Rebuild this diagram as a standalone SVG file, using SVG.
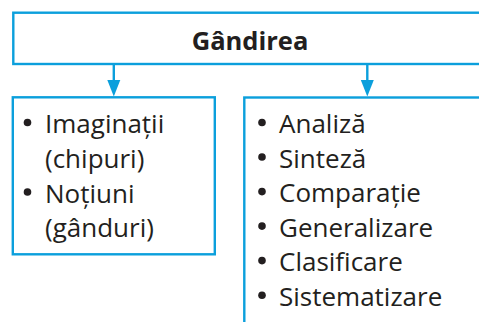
<svg xmlns="http://www.w3.org/2000/svg" width="479" height="322" viewBox="0 0 479 322">
<defs>
<style>
.box{fill:#fff;stroke:#0b9fdc;stroke-width:2.4}
.t{font-family:"Open Sans","Noto Sans",sans-serif;font-size:26px;fill:#231f20}
.h{font-family:"Open Sans","Noto Sans",sans-serif;font-size:25.5px;font-weight:bold;fill:#231f20}
.b{fill:#231f20}
.c{stroke:#0b9fdc;stroke-width:2.4;fill:none}
</style>
<marker id="ah" markerUnits="userSpaceOnUse" markerWidth="13" markerHeight="17" refX="6.5" refY="16" orient="auto-start-reverse" viewBox="0 0 13 17">
<path d="M0,0 L13,0 L6.5,16 Z" fill="#0b9fdc" transform="rotate(0)"/>
</marker>
</defs>
<rect width="479" height="322" fill="#fff"/>
<g id="root">
<rect class="box" x="13.3" y="12.7" width="490" height="51.3"/>
<text class="h" x="250" y="50" text-anchor="middle">Gândirea</text>
</g>
<g id="connectors">
<line class="c" x1="113.8" y1="64" x2="113.8" y2="82"/>
<path d="M107.3,80 L120.3,80 L113.8,96.5 Z" fill="#0b9fdc"/>
<line class="c" x1="367.3" y1="64" x2="367.3" y2="82"/>
<path d="M360.8,80 L373.8,80 L367.3,96.5 Z" fill="#0b9fdc"/>
</g>
<g id="left">
<rect class="box" x="12.8" y="97.3" width="202" height="157"/>
<circle class="b" cx="27.5" cy="122.5" r="3.8"/>
<circle class="b" cx="27.5" cy="192" r="3.8"/>
<text class="t" x="45" y="133.3">Imaginații</text>
<text class="t" x="45" y="168">(chipuri)</text>
<text class="t" x="45" y="202.5">Noțiuni</text>
<text class="t" x="45" y="237">(gânduri)</text>
</g>
<g id="right">
<rect class="box" x="244.3" y="97.5" width="260" height="260"/>
<circle class="b" cx="262" cy="122.5" r="3.8"/>
<circle class="b" cx="262" cy="157" r="3.8"/>
<circle class="b" cx="262" cy="191.6" r="3.8"/>
<circle class="b" cx="262" cy="226.1" r="3.8"/>
<circle class="b" cx="262" cy="260.6" r="3.8"/>
<circle class="b" cx="262" cy="295.2" r="3.8"/>
<text class="t" x="279" y="133.3">Analiză</text>
<text class="t" x="279" y="167.8">Sinteză</text>
<text class="t" x="279" y="202.4">Comparație</text>
<text class="t" x="279" y="236.9">Generalizare</text>
<text class="t" x="279" y="271.4">Clasificare</text>
<text class="t" x="279" y="306">Sistematizare</text>
</g>
</svg>
